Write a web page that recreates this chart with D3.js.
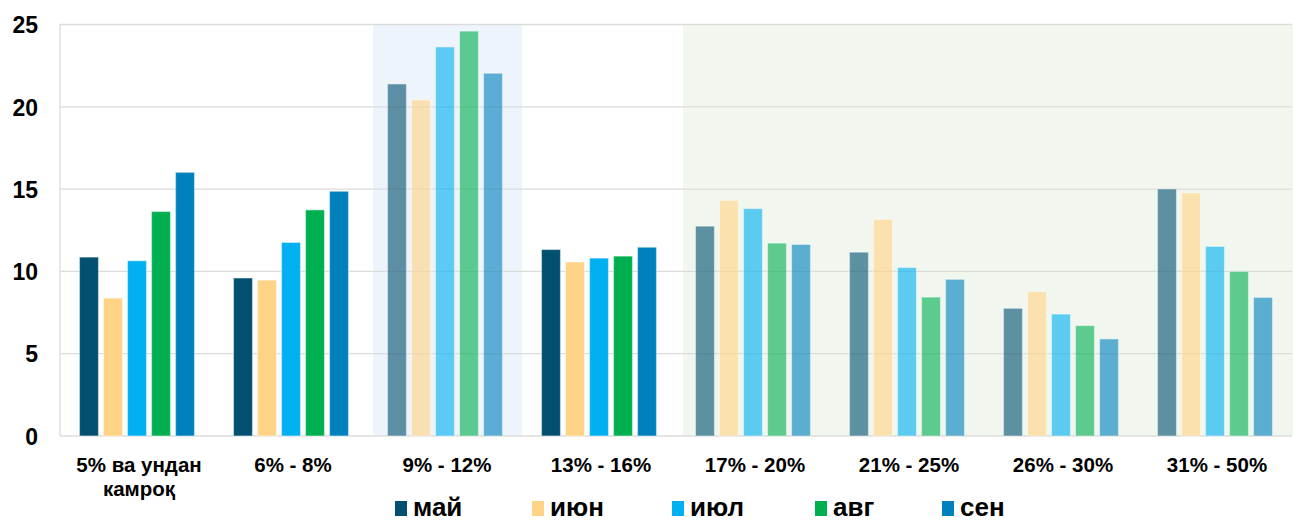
<!DOCTYPE html>
<html><head><meta charset="utf-8">
<script src="https://cdn.jsdelivr.net/npm/d3@7"></script>
<style>
html,body{margin:0;padding:0;background:#fff;}
text{font-family:"Liberation Sans",Arial,sans-serif;font-weight:bold;fill:#000;}
</style></head>
<body><svg id="c" width="1293" height="523"></svg>
<script>
const categories = ["5% ва ундан|камроқ","6% - 8%","9% - 12%","13% - 16%","17% - 20%","21% - 25%","26% - 30%","31% - 50%"];
const seriesNames = ["май","июн","июл","авг","сен"];
const seriesColors = ["#02506F","#FFD386","#00B0F0","#00B050","#0081BD"];
const may = [10.87, 9.60, 21.39, 11.33, 12.75, 11.17, 7.76, 15.01];
const jun = [8.38, 9.47, 20.42, 10.57, 14.32, 13.17, 8.77, 14.77];
const jul = [10.65, 11.76, 23.64, 10.81, 13.82, 10.24, 7.41, 11.52];
const aug = [13.64, 13.74, 24.60, 10.93, 11.72, 8.44, 6.71, 10.00];
const sep = [16.02, 14.87, 22.04, 11.47, 11.64, 9.52, 5.90, 8.42];
const yTicks = [0, 5, 10, 15, 20, 25];
const blueBandCats = [2];
const greenBandCats = [4, 5, 6, 7];

const series = [may, jun, jul, aug, sep];
const svg = d3.select("#c");
const L = 60, R = 1292, T = 24, B = 436;

const x0 = d3.scaleBand().domain(d3.range(categories.length)).range([L, R]).paddingInner(0.253).paddingOuter(0.1265);
const x1 = d3.scaleBand().domain(d3.range(seriesNames.length)).range([0, x0.bandwidth()]).paddingInner(5/24).paddingOuter(0);
const y = d3.scaleLinear().domain([0, 25]).range([B, T + 0.5]);
const step = x0.step();
const catStart = i => x0(i) - x0.paddingOuter() * step;

// background bands
svg.selectAll("rect.bb").data(blueBandCats).join("rect")
  .attr("x", i => catStart(i) + 5).attr("y", y(25)).attr("width", step - 5)
  .attr("height", y(0) - y(25)).attr("fill", "#EEF4FB");
const gStart = catStart(greenBandCats[0]) + 7;
svg.append("rect").attr("x", gStart).attr("y", y(25)).attr("width", R - gStart + 1)
  .attr("height", y(0) - y(25)).attr("fill", "#F1F7EF");

// gridlines
svg.append("g").selectAll("line").data(yTicks).join("line")
  .attr("x1", L).attr("x2", R).attr("y1", d => y(d)).attr("y2", d => y(d))
  .attr("stroke", "#DCDCDC").attr("stroke-width", 1.3);
svg.append("line").attr("x1", L).attr("x2", L).attr("y1", y(25)).attr("y2", y(0))
  .attr("stroke", "#DCDCDC").attr("stroke-width", 1.3);

// y axis labels
const yAxis = d3.axisLeft(y).tickValues(yTicks).tickSize(0).tickPadding(0);
const ya = svg.append("g").attr("transform", "translate(38,0)").call(yAxis);
ya.select(".domain").remove();
ya.selectAll("text").style("font-size", "23px").style("font-family", "Liberation Sans, Arial, sans-serif")
  .style("font-weight", "bold").attr("fill", "#000").attr("dy", "0.36em");

// bars
const faded = new Set([...blueBandCats, ...greenBandCats]);
categories.forEach((c, ci) => {
  const g = svg.append("g").attr("transform", `translate(${x0(ci)},0)`);
  series.forEach((s, si) => {
    g.append("rect")
      .attr("x", x1(si)).attr("y", y(s[ci])).attr("width", x1.bandwidth())
      .attr("height", y(0) - y(s[ci]))
      .attr("fill", seriesColors[si])
      .attr("fill-opacity", faded.has(ci) ? 0.62 : 1)
      .attr("stroke", "#ffffff").attr("stroke-opacity", 0.45).attr("stroke-width", 1.2);
  });
});

// x labels
categories.forEach((c, ci) => {
  const lines = c.split("|");
  const cx = x0(ci) + x0.bandwidth() / 2 + 2;
  const t = svg.append("text").attr("x", cx).attr("y", 472)
    .attr("text-anchor", "middle").style("font-size", "20.5px");
  lines.forEach((ln, li) => t.append("tspan").attr("x", cx).attr("dy", li ? 24 : 0).text(ln));
});

// legend
const legX = [395, 532, 672, 815, 942];
seriesNames.forEach((n, i) => {
  svg.append("rect").attr("x", legX[i]).attr("y", 501).attr("width", 12).attr("height", 15).attr("fill", seriesColors[i]);
  svg.append("text").attr("x", legX[i] + 18).attr("y", 516).style("font-size", "26px").text(n);
});
</script></body></html>
